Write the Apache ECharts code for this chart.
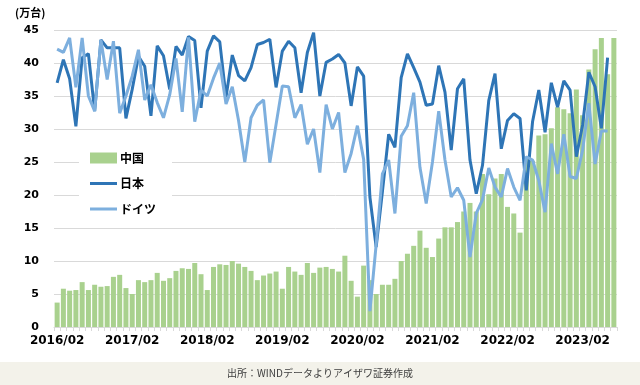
<!DOCTYPE html>
<html>
<head>
<meta charset="utf-8">
<script src="https://cdn.jsdelivr.net/npm/echarts@6/dist/echarts.min.js"></script>
<style>
html,body{margin:0;padding:0;background:#fff;}
#c{width:640px;height:385px;}
</style>
</head>
<body>
<div id="c"></div>
<script>
// Monthly categories 2016/02 .. 2023/07
const startYear = 2016, startMonth = 2, monthCount = 90;
const categories = [];
for (let k = 0; k < monthCount; k++) {
  const m0 = startMonth - 1 + k;
  const y = startYear + Math.floor(m0 / 12);
  const m = (m0 % 12) + 1;
  categories.push(y + '/' + (m < 10 ? '0' + m : m));
}

const seriesNames = ['中国', '日本', 'ドイツ'];

const china = [
  3.7, 5.8, 5.5, 5.6, 6.8, 5.6, 6.4, 6.1, 6.2, 7.6,
  7.9, 5.9, 5.0, 7.1, 6.8, 7.1, 8.2, 7.0, 7.4, 8.5,
  8.9, 8.8, 9.7, 8.0, 5.6, 9.1, 9.5, 9.4, 10.0, 9.6,
  9.1, 8.5, 7.1, 7.8, 8.1, 8.4, 5.8, 9.1, 8.4, 7.9,
  9.7, 8.2, 9.0, 9.1, 8.8, 8.4, 10.8, 7.0, 4.6, 9.3,
  7.1, 5.0, 6.4, 6.4, 7.3, 10.0, 11.1, 12.3, 14.6, 12.0,
  10.6, 13.4, 15.1, 15.1, 15.9, 17.5, 18.8, 17.5, 23.2, 20.1,
  22.5, 23.2, 18.2, 17.2, 14.3, 25.5, 25.2, 29.0, 29.2, 30.1,
  33.3, 33.0, 32.4, 36.0, 32.1, 39.0, 42.1, 43.8, 38.3, 43.8
];

const japan = [
  37.0, 40.5, 37.6, 30.4, 40.8, 41.4, 32.7, 43.5, 42.3, 42.3,
  42.3, 31.6, 36.0, 41.0, 39.5, 32.0, 42.6, 41.1, 36.0, 42.5,
  41.2, 44.0, 43.4, 33.2, 41.8, 44.1, 43.2, 34.8, 41.2, 38.1,
  37.3, 39.3, 42.8, 43.1, 43.6, 36.3, 41.8, 43.3, 42.3, 35.5,
  41.6, 44.6, 35.0, 40.1, 40.6, 41.3, 40.0, 33.5, 39.4, 38.0,
  19.7, 12.1, 20.5, 29.2, 27.2, 37.8, 41.4, 39.3, 37.1, 33.6,
  33.8, 39.6, 35.6, 26.8, 36.1, 37.6, 25.3, 20.2, 24.5, 34.3,
  38.4, 27.0, 31.3, 32.3, 31.6, 20.7, 31.1, 35.9, 29.5, 37.0,
  33.3, 37.3, 35.9, 25.8, 30.6, 38.6, 36.4, 30.1, 40.8, null
];

const germany = [
  42.1, 41.6, 43.8, 36.3, 43.8, 35.0, 32.7, 43.5, 37.5, 43.3,
  32.4, 35.0, 38.0, 42.0, 34.4, 36.7, 34.0, 31.7, 35.2, 40.7,
  32.6, 43.9, 31.1, 35.9, 35.0, 37.7, 40.0, 33.8, 36.4, 31.3,
  25.0, 31.7, 33.6, 34.4, 24.9, 30.7, 36.5, 36.4, 31.7, 33.7,
  27.7, 30.0, 23.4, 33.7, 30.0, 32.5, 23.4, 26.3, 30.5, 25.4,
  2.4, 12.5, 23.2, 25.3, 17.2, 28.9, 30.5, 35.5, 24.2, 18.7,
  25.0, 32.7, 25.3, 19.7, 21.1, 19.2, 10.6, 17.2, 19.3, 24.1,
  21.2, 19.7, 24.0, 21.2, 19.2, 25.8, 25.3, 22.2, 17.4, 27.8,
  23.2, 29.2, 22.8, 22.5, 26.8, 33.9, 24.7, 29.7, 29.7, null
];

const yTicks = [0, 5, 10, 15, 20, 25, 30, 35, 40, 45];
const unitLabel = '(万台)';
const sourceText = '出所：WINDデータよりアイザワ証券作成';

const chart = echarts.init(document.getElementById('c'), null, {renderer: 'canvas'});
const numFont = 'DejaVu Sans';
const jpFont = '"Noto Sans CJK JP", sans-serif';
// thin horizontal line icon inside an 27x11 box (near-invisible hairlines keep the box size)
const lineIcon = 'path://M0,0 L27,0 L27,0.001 L0,0.001 Z M0,4 L27,4 L27,7 L0,7 Z M0,10.999 L27,10.999 L27,11 L0,11 Z';

chart.setOption({
  animation: false,
  backgroundColor: '#ffffff',
  color: ['#A9D18E', '#2E75B6', '#7DAFDE'],
  grid: {left: 54, right: 23, top: 30, bottom: 58, containLabel: false},
  graphic: [
    {type: 'rect', left: 0, top: 362, shape: {width: 640, height: 23}, style: {fill: '#F3F2EA'}, silent: true},
    {type: 'text', left: 'center', top: 368, style: {text: sourceText, fill: '#404040', font: '10px ' + jpFont}},
    {type: 'text', left: 15, top: 7, style: {text: unitLabel, fill: '#000', font: 'bold 11px ' + jpFont}}
  ],
  legend: {
    orient: 'vertical',
    left: 79,
    top: 142,
    padding: [10, 16, 10, 11],
    backgroundColor: '#ffffff',
    itemWidth: 27,
    itemHeight: 11,
    itemGap: 13.5,
    textStyle: {fontFamily: jpFont, fontSize: 12, fontWeight: 'bold', color: '#000', padding: [0, 0, 0, -2]},
    data: [
      {name: '中国', icon: 'rect'},
      {name: '日本', icon: lineIcon, itemStyle: {color: '#2E75B6'}},
      {name: 'ドイツ', icon: lineIcon, itemStyle: {color: '#7DAFDE'}}
    ]
  },
  xAxis: {
    type: 'category',
    data: categories,
    boundaryGap: true,
    axisLine: {show: true, lineStyle: {color: '#D9D9D9', width: 1}},
    axisTick: {show: true, interval: 0, length: 4, lineStyle: {color: '#D9D9D9'}},
    axisLabel: {interval: 11, color: '#000', fontFamily: numFont, fontWeight: 'bold', fontSize: 12, margin: 8},
    splitLine: {show: false}
  },
  yAxis: {
    type: 'value',
    min: yTicks[0],
    max: yTicks[yTicks.length - 1],
    interval: 5,
    axisLine: {show: false},
    axisTick: {show: false},
    axisLabel: {color: '#000', fontFamily: numFont, fontWeight: 'bold', fontSize: 11, margin: 15},
    splitLine: {lineStyle: {color: '#D9D9D9', width: 1}}
  },
  series: [
    {
      name: seriesNames[0], type: 'bar', data: china,
      barCategoryGap: '20%',
      itemStyle: {color: '#A9D18E'}
    },
    {
      name: seriesNames[1], type: 'line', data: japan,
      symbol: 'none', showSymbol: false,
      lineStyle: {color: '#2E75B6', width: 3},
      itemStyle: {color: '#2E75B6'}
    },
    {
      name: seriesNames[2], type: 'line', data: germany,
      symbol: 'none', showSymbol: false,
      lineStyle: {color: '#7DAFDE', width: 3},
      itemStyle: {color: '#7DAFDE'}
    }
  ]
});
</script>
</body>
</html>
